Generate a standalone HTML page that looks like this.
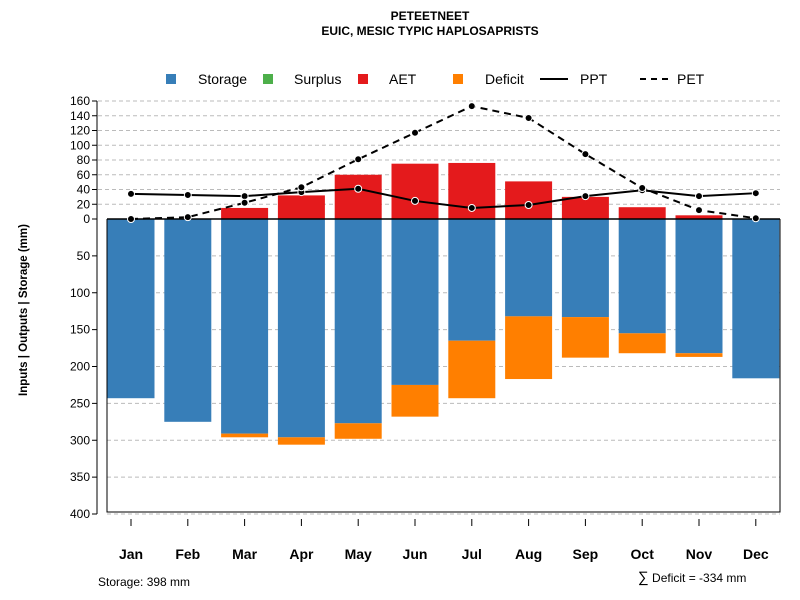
<!DOCTYPE html>
<html><head><meta charset="utf-8"><style>
body{margin:0;background:#fff}
svg{font-family:"Liberation Sans",sans-serif;display:block}
</style></head><body>
<svg id="c" width="800" height="600">
<text x="430" y="20" font-size="12" font-weight="bold" text-anchor="middle">PETEETNEET</text>
<text x="430" y="35" font-size="12" font-weight="bold" text-anchor="middle">EUIC, MESIC TYPIC HAPLOSAPRISTS</text>
<g id="legend" font-size="14">
<rect x="166" y="74" width="10" height="10" fill="#377eb8"/><text x="198" y="84">Storage</text>
<rect x="263" y="74" width="10" height="10" fill="#4daf4a"/><text x="294" y="84">Surplus</text>
<rect x="358" y="74" width="10" height="10" fill="#e41a1c"/><text x="389" y="84">AET</text>
<rect x="453" y="74" width="10" height="10" fill="#ff7f00"/><text x="485" y="84">Deficit</text>
<line x1="540" y1="79" x2="568" y2="79" stroke="#000" stroke-width="2"/><text x="580" y="84">PPT</text>
<line x1="640" y1="79" x2="668" y2="79" stroke="#000" stroke-width="2" stroke-dasharray="6,5"/><text x="677" y="84">PET</text>
</g>
<text transform="translate(27,310) rotate(-90)" font-size="11.5" font-weight="bold" text-anchor="middle">Inputs | Outputs | Storage    (mm)</text>
<text x="98" y="586" font-size="12">Storage: 398 mm</text>
<text x="638" y="582" font-size="12"><tspan font-size="15">∑</tspan> Deficit = -334 mm</text>
</svg>
<script>
const months=["Jan","Feb","Mar","Apr","May","Jun","Jul","Aug","Sep","Oct","Nov","Dec"];
const storage=[243,275,291,296,277,225,165,132,133,155,182,216];
const deficit=[0,0,5,10,21,43,78,85,55,27,5,0];
const aet=[0,0,15,32,60,75,76,51,30,16,5,0];
const ppt=[34,32.5,31,36.5,41,24.5,15,19,31,39,31,35];
const pet=[0,2.5,22,43,81,117,153,137,88,42,12,1];
const posTicks=[0,20,40,60,80,100,120,140,160];
const negTicks=[0,50,100,150,200,250,300,350,400];
const NS="http://www.w3.org/2000/svg",svg=document.getElementById('c');
const y0=219,k=0.7375,x0=131,dx=56.8,bw=47;
const yP=v=>y0-v*k, yN=v=>y0+v*k, xC=i=>x0+i*dx;
function mk(t,a){const e=document.createElementNS(NS,t);for(const n in a)e.setAttribute(n,a[n]);svg.appendChild(e);return e;}
posTicks.forEach(v=>{if(v>0){const g=mk('line',{x1:98,x2:780,y1:yP(v),y2:yP(v),stroke:'#bbb','stroke-dasharray':'4,3'});

}
mk('line',{x1:92,x2:97,y1:yP(v),y2:yP(v),stroke:'#000'});
const t=mk('text',{x:90,y:yP(v)+4,'font-size':12,'text-anchor':'end'});t.textContent=v;

});
negTicks.forEach(v=>{if(v>0){const g=mk('line',{x1:107,x2:780,y1:yN(v),y2:yN(v),stroke:'#bbb','stroke-dasharray':'4,3'});


mk('line',{x1:92,x2:97,y1:yN(v),y2:yN(v),stroke:'#000'});
const t=mk('text',{x:90,y:yN(v)+4,'font-size':12,'text-anchor':'end'});t.textContent=v;

}});
mk('line',{x1:97,x2:97,y1:yP(160),y2:yN(400),stroke:'#000'});
months.forEach((m,i)=>{const x=xC(i)-bw/2;
let r=mk('rect',{x,y:y0,width:bw,height:storage[i]*k,fill:'#377eb8'});


if(deficit[i]>0){r=mk('rect',{x,y:yN(storage[i]),width:bw,height:deficit[i]*k,fill:'#ff7f00'});

}
if(aet[i]>0){r=mk('rect',{x,y:yP(aet[i]),width:bw,height:aet[i]*k,fill:'#e41a1c'});

}
mk('line',{x1:xC(i),x2:xC(i),y1:519,y2:526,stroke:'#000'});
const t=mk('text',{x:xC(i),y:559,'font-size':14,'font-weight':'bold','text-anchor':'middle'});t.textContent=m;

});
mk('path',{d:`M107,${y0}V512H780V${y0}`,fill:'none',stroke:'#000'});
mk('line',{x1:107,x2:780,y1:y0,y2:y0,stroke:'#000','stroke-width':1.5});
let l=mk('polyline',{points:ppt.map((v,i)=>xC(i)+','+yP(v)).join(' '),fill:'none',stroke:'#000','stroke-width':2});


l=mk('polyline',{points:pet.map((v,i)=>xC(i)+','+yP(v)).join(' '),fill:'none',stroke:'#000','stroke-width':2,'stroke-dasharray':'7,5'});


[ppt,pet].forEach((s,j)=>s.forEach((v,i)=>{const c=mk('circle',{cx:xC(i),cy:yP(v),r:3.5,fill:'#000',stroke:'#fff','stroke-width':1});

}));
</script>
</body></html>
